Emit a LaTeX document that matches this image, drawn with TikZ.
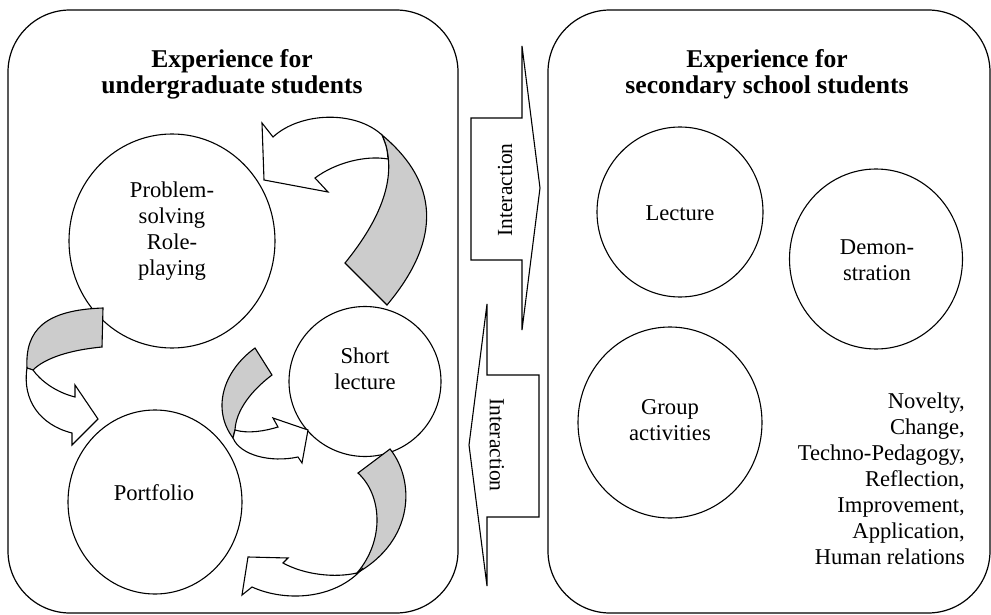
\documentclass[tikz,border=0pt]{standalone}
\usepackage{fontspec}
\setmainfont{Liberation Serif}
\usepackage{tikz}
\usetikzlibrary{shapes.geometric}
\tikzset{
    panel/.style={draw, line width=1.2pt, rounded corners=62pt}, % the two big boxes
    bubble/.style={ellipse, draw, line width=1.1pt, inner sep=0pt, fill=white}, % activity circles
    txt/.style={align=center, inner sep=0pt, font=\fontsize{22.6}{26}\selectfont}, % body text
    head/.style={align=center, inner sep=0pt, font=\bfseries\fontsize{25.6}{25.5}\selectfont}, % box titles
    ribbon/.style={draw, line width=1.1pt, fill=white}, % front face of a curved arrow
    ribbon back/.style={ribbon, fill=black!20}, % back face of a curved arrow
    callout/.style={draw, line width=1.1pt, fill=white} % interaction arrows
}

\begin{document}
\begin{tikzpicture}[x=1pt, y=-1pt]
    \def\W{991} \def\H{615}
    \useasboundingbox (0,0) rectangle (\W,\H);

    \draw[panel] (8,10) rectangle (458,613);
    \draw[panel] (548,10) rectangle (990,613);

    \node[head] (ughead) at (232,74.5) {Experience for\\undergraduate students};
    \node[head] (sshead) at (767,74.5) {Experience for\\secondary school students};

    % undergraduate side
    \node[bubble, minimum width=206pt, minimum height=214pt] (prob) at (172,241) {};
    \node[bubble, minimum width=152pt, minimum height=150pt] (short) at (365,381.5) {};
    \node[bubble, minimum width=174pt, minimum height=184pt] (port) at (155,502) {};
    \node[txt] (probtxt) at (172,231) {Problem-\\solving\\Role-\\playing};
    \node[txt] (shorttxt) at (365,368.5) {Short\\lecture};
    \node[txt] (porttxt) at (154,493) {Portfolio};

    % curved arrows
    \filldraw[ribbon back] (382,135) .. controls (430,175) and (450,230) .. (387,305) -- (345,263) .. controls (380,220) and (400,175) .. (382,135) -- cycle;
    \filldraw[ribbon] (382,135) .. controls (355,110) and (300,112) .. (273,137) -- (262,123) -- (264,180) -- (328,192) -- (315,178) .. controls (335,163) and (365,155) .. (388,159) .. controls (387,148) .. (382,135) -- cycle;

    \filldraw[ribbon back] (103,308) -- (102,347) .. controls (70,350) and (45,358) .. (33,370) -- (27,368) .. controls (25,330) and (45,310) .. (103,308) -- cycle;
    \filldraw[ribbon] (27,368) .. controls (22,400) and (40,425) .. (72,433) -- (72,445) -- (98,419) -- (75,385) -- (75,397) .. controls (55,392) and (40,380) .. (33,370) -- cycle;

    \filldraw[ribbon back] (255,348) -- (272,375) .. controls (252,390) and (236,410) .. (235,430) -- (233,438) .. controls (212,410) and (222,372) .. (255,348) -- cycle;
    \filldraw[ribbon] (235,430) .. controls (248,434) and (265,431) .. (278,427) -- (273,418) -- (308,430) -- (302,463) -- (298,457) .. controls (270,463) and (240,455) .. (233,438) -- cycle;

    \filldraw[ribbon back] (358,473) -- (390,449) .. controls (415,480) and (415,540) .. (357,573) .. controls (385,540) and (382,495) .. (358,473) -- cycle;
    \filldraw[ribbon] (357,573) .. controls (335,578) and (305,575) .. (283,563) -- (288,558) -- (248,557) -- (242,595) -- (252,587) .. controls (285,602) and (335,600) .. (363,568) -- cycle;

    % interaction arrows
    \draw[callout] (471,118) -- (522,118) -- (522,46) -- (540,188) -- (522,330) -- (522,260) -- (471,260) -- cycle;
    \node[txt, rotate=90, font=\fontsize{21.5}{25}\selectfont] (intup) at (505,190) {Interaction};
    \draw[callout] (487,304) -- (469,445) -- (487,586) -- (487,517) -- (539,517) -- (539,375) -- (487,375) -- cycle;
    \node[txt, rotate=-90, font=\fontsize{21.5}{25}\selectfont] (intdown) at (497,445) {Interaction};

    % secondary side
    \node[bubble, minimum width=166pt, minimum height=170pt] (lect) at (680,212) {};
    \node[bubble, minimum width=173pt, minimum height=180pt] (demo) at (876,259) {};
    \node[bubble, minimum width=184pt, minimum height=191pt] (group) at (670,422.5) {};
    \node[txt] (lecttxt) at (680,213) {Lecture};
    \node[txt] (demotxt) at (877,260) {Demon-\\stration};
    \node[txt] (grouptxt) at (670,420.5) {Group\\activities};

    \node[txt, align=right, anchor=east] (values) at (965,478.5) {Novelty,\\Change,\\Techno-Pedagogy,\\Reflection,\\Improvement,\\Application,\\Human relations};
\end{tikzpicture}
\end{document}
